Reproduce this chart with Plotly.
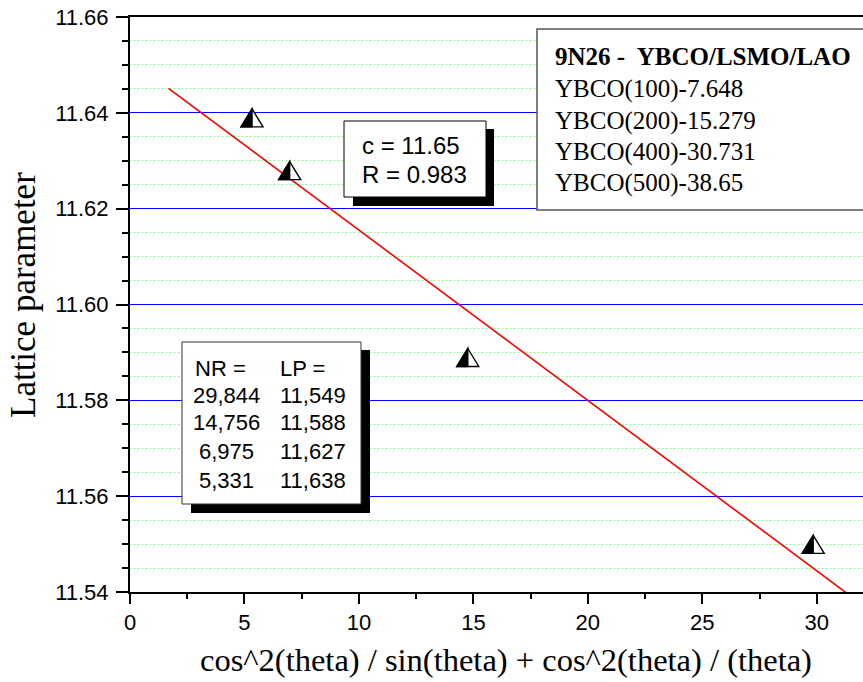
import numpy as np
import plotly.graph_objects as go

# Measured reflections: NR value (x) and resulting lattice parameter (y)
nr_values = [29.844, 14.756, 6.975, 5.331]
lp_values = [11.549, 11.588, 11.627, 11.638]

sample_title = "9N26 -\u00a0 YBCO/LSMO/LAO"
reflection_labels = ["YBCO(100)-7.648", "YBCO(200)-15.279",
                     "YBCO(400)-30.731", "YBCO(500)-38.65"]

x_title = "cos^2(theta) / sin(theta) + cos^2(theta) / (theta)"
y_title = "Lattice parameter"

x_range = [0, 32.02]
y_range = [11.54, 11.66]
fit_span = [1.68, 32.0]

# Linear extrapolation of the lattice parameter
slope, intercept = np.polyfit(nr_values, lp_values, 1)
r_value = abs(np.corrcoef(nr_values, lp_values)[0, 1])
fit_x = np.array(fit_span)
fit_y = intercept + slope * fit_x

# Page geometry (pixels) and helpers to place overlays in paper coordinates
W, H = 863, 682
ML, MR, MT, MB = 130, 0, 17, 90


def px(x):
    return (x - ML) / (W - ML - MR)


def py(y):
    return (H - MB - y) / (H - MT - MB)


SANS = "Liberation Sans, Arial, sans-serif"
SERIF = "Liberation Serif, Times New Roman, serif"

fig = go.Figure()

fig.add_trace(go.Scatter(
    x=fit_x, y=fit_y, mode="lines",
    line=dict(color="#ff0000", width=1.6),
    hoverinfo="skip", showlegend=False,
))

# invisible markers for hover; the half-filled triangles are drawn as shapes
fig.add_trace(go.Scatter(
    x=nr_values, y=lp_values, mode="markers",
    marker=dict(size=18, opacity=0),
    showlegend=False,
))

shapes = []


def box(x0, y0, x1, y1, fill, line_color=None, line_width=0):
    shapes.append(dict(
        type="rect", xref="paper", yref="paper",
        x0=px(x0), x1=px(x1), y0=py(y0), y1=py(y1),
        fillcolor=fill,
        line=dict(color=line_color or fill, width=line_width),
        layer="above",
    ))


# half-black / half-white triangle symbols anchored at each data point
full_tri = "M -11,-4.5 L 11,-4.5 L 0,13.5 Z"
left_half = "M -11,-4.5 L 0,-4.5 L 0,13.5 Z"
for xv, yv in zip(nr_values, lp_values):
    for path, fill in ((full_tri, "white"), (left_half, "black")):
        shapes.append(dict(
            type="path", xref="x", yref="y",
            xsizemode="pixel", ysizemode="pixel",
            xanchor=xv, yanchor=yv, path=path,
            fillcolor=fill, line=dict(color="black", width=1.4),
            layer="above",
        ))

# text boxes with drop shadows
box(353, 129, 494, 206, "black")
box(344, 121, 486, 197, "white", "black", 1)
box(191, 350, 370, 513, "black")
box(182, 342, 361, 504, "white", "#333333", 1)
box(537, 29, 880, 210, "white", "#555555", 1.5)

annotations = []


def label(text, x, y, size, family, xanchor="left", angle=0):
    annotations.append(dict(
        text=text, xref="paper", yref="paper",
        x=px(x), y=py(y), xanchor=xanchor, yanchor="middle",
        showarrow=False, textangle=angle,
        font=dict(family=family, size=size, color="black"),
    ))


def comma(v):
    return f"{v:.3f}".replace(".", ",")


# fit results
label(f"c = {intercept:.2f}", 360, 145, 24, SANS)
label(f"R = {r_value:.3f}", 360, 174, 24, SANS)

# table of the measured values
row_y = [395, 422.7, 451.7, 480]
label("NR =", 192.5, 368.3, 22, SANS)
label("LP =", 278, 368.3, 22, SANS)
for yy, nr, lp in zip(row_y, nr_values, lp_values):
    label(comma(nr), 226.6, yy, 22, SANS, xanchor="center")
    label(comma(lp), 278, yy, 22, SANS)

# sample description
label(f"<b>{sample_title}</b>", 553, 56.7, 25, SERIF)
for yy, txt in zip([89, 120.7, 152, 182.7], reflection_labels):
    label(txt, 553, yy, 25, SERIF)

# axis titles
label(x_title, 506, 660, 32.5, SERIF, xanchor="center")
label(y_title, 23, 295, 35, SERIF, xanchor="center", angle=-90)

fig.update_layout(
    width=W, height=H,
    margin=dict(l=ML, r=MR, t=MT, b=MB, pad=0),
    paper_bgcolor="white", plot_bgcolor="white",
    showlegend=False,
    shapes=shapes, annotations=annotations,
    font=dict(family=SANS, size=22, color="black"),
)

fig.update_xaxes(
    range=x_range, dtick=5, tick0=0,
    showgrid=False, zeroline=False,
    showline=True, linecolor="black", linewidth=2, mirror=True,
    ticks="outside", ticklen=10, tickwidth=2, tickcolor="black",
    tickfont=dict(family=SANS, size=22),
    minor=dict(dtick=2.5, ticks="outside", ticklen=5, tickwidth=2,
               tickcolor="black", showgrid=False),
)

fig.update_yaxes(
    range=y_range, dtick=0.02, tick0=11.54, tickformat=".2f",
    showgrid=True, gridcolor="#0000ff", gridwidth=1,
    zeroline=False,
    showline=True, linecolor="black", linewidth=2, mirror=False,
    ticks="outside", ticklen=12, tickwidth=2, tickcolor="black",
    ticklabelstandoff=3,
    tickfont=dict(family=SANS, size=22),
    minor=dict(dtick=0.005, tick0=11.54, ticks="outside", ticklen=6,
               tickwidth=2, tickcolor="black",
               showgrid=True, gridcolor="#7aea7a", griddash="1px,3px",
               gridwidth=1),
)

fig.write_html("out.html")
